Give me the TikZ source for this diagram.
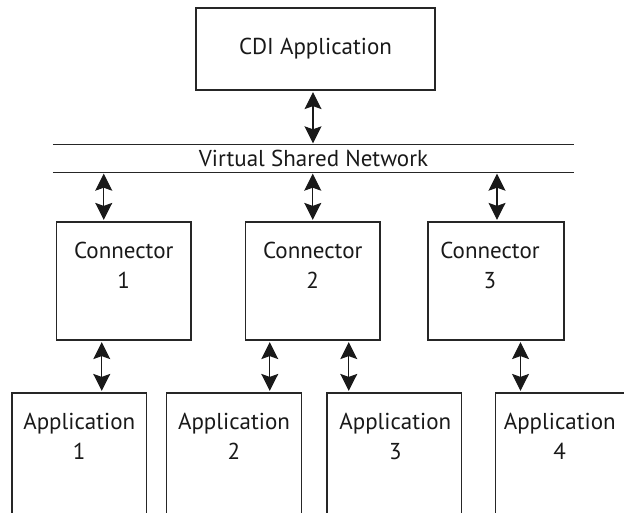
\documentclass[tikz,border=0pt]{standalone}
\usepackage{fontspec}
\setmainfont{PT Sans}
\usetikzlibrary{arrows.meta}
\begin{document}
\begin{tikzpicture}[x=1pt,y=-1pt,
  box/.style={draw=black!85,line width=1.2pt,minimum height=#1,inner sep=0pt},
  lbl/.style={font=\fontsize{23}{30}\selectfont,text=black!90,align=center,inner sep=0pt},
  biarrow/.style={draw=black!90,line width=1.2pt,{Stealth[length=17pt,width=17pt,inset=3pt]}-{Stealth[length=17pt,width=17pt,inset=3pt]},shorten <=1.5pt,shorten >=1.5pt}]
\useasboundingbox (0,0) rectangle (624,512);
\begin{scope}
\clip (0,0) rectangle (624,512);
% CDI
\node[box=82pt,minimum width=239pt] (cdi) at (315.5,49) {};
\node[lbl] (cdit) at (cdi.center) {CDI Application};
% network
\node[minimum width=521pt,minimum height=27pt,inner sep=0pt] (net) at (313.5,158.5) {};
\draw[black!85,line width=1.2pt] (net.north west) -- (net.north east);
\draw[black!85,line width=1.2pt] (net.south west) -- (net.south east);
\node[lbl] (nett) at (net.center) {Virtual Shared Network};
% connectors
\node[box=118pt,minimum width=134.5pt] (c1) at (123.75,281) {};
\node[box=118pt,minimum width=134.5pt] (c2) at (312.75,281) {};
\node[box=118pt,minimum width=136pt] (c3) at (496,281) {};
\node[lbl,anchor=north] (c1t) at ([yshift=-21pt]c1.north) {Connector\\1};
\node[lbl,anchor=north] (c2t) at ([yshift=-21pt]c2.north) {Connector\\2};
\node[lbl,anchor=north] (c3t) at ([xshift=-6pt,yshift=-21pt]c3.north) {Connector\\3};
% applications
\node[box=140pt,minimum width=134.5pt] (a1) at (79.25,463) {};
\node[box=140pt,minimum width=134.5pt] (a2) at (234,463) {};
\node[box=140pt,minimum width=134.5pt] (a3) at (394.3,463) {};
\node[box=140pt,minimum width=134.5pt] (a4) at (562.75,463) {};
\node[lbl,anchor=north] (a1t) at ([yshift=-21pt]a1.north) {Application\\1};
\node[lbl,anchor=north] (a2t) at ([yshift=-21pt]a2.north) {Application\\2};
\node[lbl,anchor=north] (a3t) at ([xshift=1pt,yshift=-21pt]a3.north) {Application\\3};
\node[lbl,anchor=north] (a4t) at ([xshift=-3pt,yshift=-21pt]a4.north) {Application\\4};
\end{scope}
% arrows
\draw[biarrow] ([xshift=-2.5pt]cdi.south) -- ([xshift=-2.5pt]cdi.south |- net.north);
\draw[biarrow] ([xshift=-20pt]c1.north |- net.south) -- ([xshift=-20pt]c1.north);
\draw[biarrow] (c2.north |- net.south) -- (c2.north);
\draw[biarrow] ([xshift=1pt]c3.north |- net.south) -- ([xshift=1pt]c3.north);
\draw[biarrow] ([xshift=-22pt]c1.south) -- ([xshift=-22pt]c1.south |- a1.north);
\draw[biarrow] ([xshift=-43pt]c2.south) -- ([xshift=-43pt]c2.south |- a2.north);
\draw[biarrow] ([xshift=36pt]c2.south) -- ([xshift=36pt]c2.south |- a3.north);
\draw[biarrow] ([xshift=24.5pt]c3.south) -- ([xshift=24.5pt]c3.south |- a4.north);
\end{tikzpicture}
\end{document}
